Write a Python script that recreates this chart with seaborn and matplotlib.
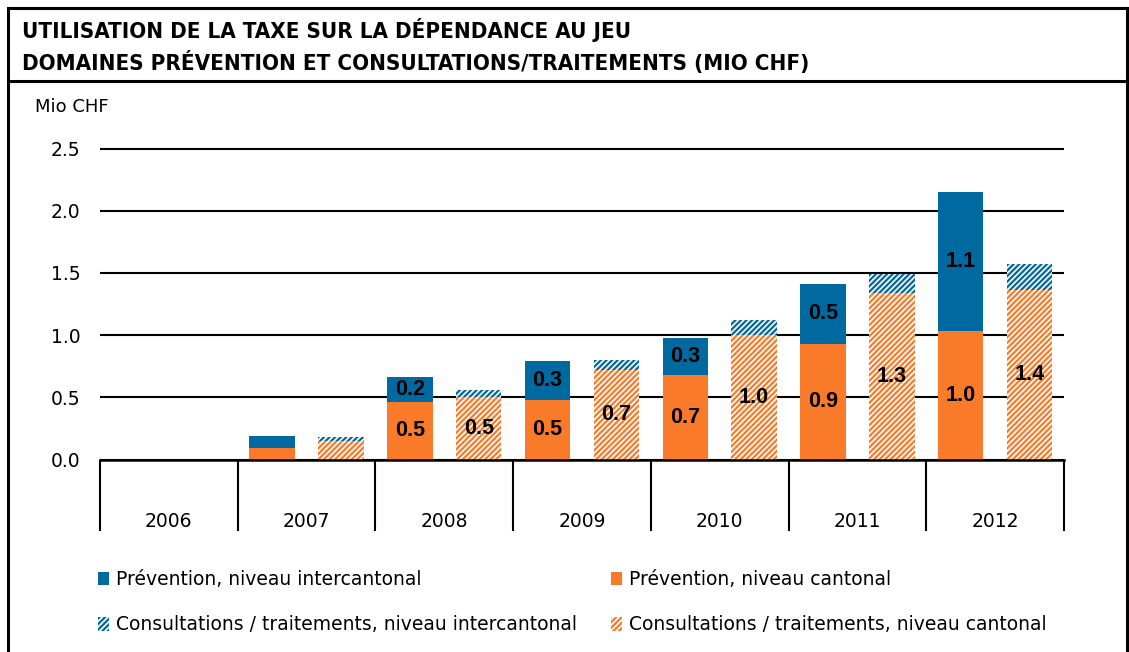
import matplotlib
matplotlib.use('Agg')
import matplotlib.pyplot as plt
from matplotlib.patches import Patch, Rectangle
from matplotlib.lines import Line2D
from matplotlib.ticker import FormatStrFormatter
from matplotlib import font_manager
import numpy as np
import pandas as pd
import seaborn as sns

# values (Mio CHF)
years = ['2006', '2007', '2008', '2009', '2010', '2011', '2012']
prev_cantonal = [0.0, 0.09, 0.46, 0.48, 0.68, 0.93, 1.03]
prev_intercantonal = [0.0, 0.10, 0.20, 0.31, 0.30, 0.48, 1.12]
cons_cantonal = [0.0, 0.15, 0.50, 0.72, 1.00, 1.34, 1.36]
cons_intercantonal = [0.0, 0.03, 0.06, 0.08, 0.12, 0.15, 0.21]

groups = ['Prévention', 'Consultations']
legend_labels = ['Prévention, niveau intercantonal',
                 'Consultations / traitements, niveau intercantonal',
                 'Prévention, niveau cantonal',
                 'Consultations / traitements, niveau cantonal']
title_lines = ['UTILISATION DE LA TAXE SUR LA DÉPENDANCE AU JEU',
               'DOMAINES PRÉVENTION ET CONSULTATIONS/TRAITEMENTS (MIO CHF)']

blue = '#0069a0'
orange = '#f97a28'

df = pd.DataFrame({
    'year': years * 2,
    'group': [groups[0]] * len(years) + [groups[1]] * len(years),
    'cantonal': prev_cantonal + cons_cantonal,
    'intercantonal': prev_intercantonal + cons_intercantonal,
})
df['total'] = df['cantonal'] + df['intercantonal']

sns.set_style('white')
plt.rcParams['font.family'] = ['DejaVu Sans']
plt.rcParams['hatch.linewidth'] = 1.6
plt.rcParams['text.color'] = 'black'
plt.rcParams['xtick.color'] = 'black'
plt.rcParams['ytick.color'] = 'black'

# a condensed bold face for the title if one is installed
title_font = dict(family=['Liberation Sans', 'DejaVu Sans'], fontsize=16.2)
for f in font_manager.fontManager.ttflist:
    if f.name == 'Liberation Sans Narrow' and f.weight in (700, 'bold'):
        title_font = dict(family=['Liberation Sans Narrow', 'DejaVu Sans'], fontsize=17)
        break
    if f.name == 'DejaVu Sans' and 'ondensed' in str(f.stretch) + f.fname and f.weight in (700, 'bold'):
        title_font = dict(family=['DejaVu Sans'], fontstretch='condensed', fontsize=16)

W, H = 1129, 652
fig = plt.figure(figsize=(W / 100, H / 100), dpi=100)
ax = fig.add_axes([100 / W, (H - 459.5) / H, 964 / W, 2.6 * 124.4 / H])

common = dict(width=1.0, gap=0.34, linewidth=0, saturation=1, errorbar=None,
              legend=False, ax=ax)
sns.barplot(data=df, x='year', y='total', hue='group', hue_order=groups,
            palette=[blue, blue], **common)
sns.barplot(data=df, x='year', y='cantonal', hue='group', hue_order=groups,
            palette=[orange, orange], **common)

# hatched consultation bars
for idx in (1, 3):
    for p in ax.containers[idx]:
        c = p.get_facecolor()
        p.set_facecolor('white')
        p.set_edgecolor(c)
        p.set_hatch('//////')
        p.set_linewidth(0)

lab_kw = dict(fontsize=15.5, fontweight='bold', color='black',
              family=['Liberation Sans', 'DejaVu Sans'])

def fmt(vals):
    return [f'{v:.1f}' if v >= 0.18 else '' for v in vals]

ax.bar_label(ax.containers[2], labels=fmt(prev_cantonal), label_type='center', **lab_kw)
ax.bar_label(ax.containers[3], labels=fmt(cons_cantonal), label_type='center', **lab_kw)
for p, base, v in zip(ax.containers[0], prev_cantonal, prev_intercantonal):
    if v >= 0.18:
        ax.text(p.get_x() + p.get_width() / 2, base + v / 2, f'{v:.1f}',
                ha='center', va='center', **lab_kw)

ax.set_xlim(-0.5, len(years) - 0.5)
ax.set_ylim(0, 2.6)
ax.set_yticks(np.arange(0, 2.51, 0.5))
ax.yaxis.set_major_formatter(FormatStrFormatter('%.1f'))
ax.set_xlabel('')
ax.set_ylabel('')
ax.set_axisbelow(True)
ax.yaxis.grid(True, color='black', linewidth=1.5)
ax.xaxis.grid(False)
sns.despine(ax=ax, left=True)
ax.spines['bottom'].set_linewidth(1.8)
ax.spines['bottom'].set_color('black')

# category separators below the axis
ax.set_xticks(np.arange(-0.5, len(years), 1), minor=True)
ax.tick_params(axis='x', which='minor', bottom=True, length=51, width=1.5,
               color='black', direction='out')
ax.tick_params(axis='x', which='major', length=0, pad=38, labelsize=13.5)
ax.tick_params(axis='y', length=0, pad=14, labelsize=13.5)

# frame and title
fig.patches.append(Rectangle((8 / W, -0.05), (1127 - 8) / W, (H - 8) / H + 0.05,
                             transform=fig.transFigure, fill=False, lw=2.2, ec='black'))
fig.add_artist(Line2D([8 / W, 1127 / W], [1 - 81 / H] * 2, transform=fig.transFigure,
                      color='black', lw=2.2))
for i, line in enumerate(title_lines):
    fig.text(22 / W, 1 - (38 + 32 * i) / H, line, fontweight='bold',
             va='baseline', ha='left', **title_font)
fig.text(35 / W, 1 - 112 / H, 'Mio CHF', fontsize=13, va='baseline', ha='left')

handles = [Patch(facecolor=blue, linewidth=0),
           Patch(facecolor='white', edgecolor=blue, hatch='//////', linewidth=0),
           Patch(facecolor=orange, linewidth=0),
           Patch(facecolor='white', edgecolor=orange, hatch='//////', linewidth=0)]
leg_kw = dict(loc='upper left', frameon=False, fontsize=13.5, handlelength=0.6,
              handleheight=0.75, handletextpad=0.35, labelspacing=1.4,
              borderpad=0, borderaxespad=0)
fig.legend(handles[:2], legend_labels[:2], bbox_to_anchor=(98 / W, 1 - 570 / H), **leg_kw)
fig.legend(handles[2:], legend_labels[2:], bbox_to_anchor=(611 / W, 1 - 570 / H), **leg_kw)

fig.savefig('out.png', dpi=100)
